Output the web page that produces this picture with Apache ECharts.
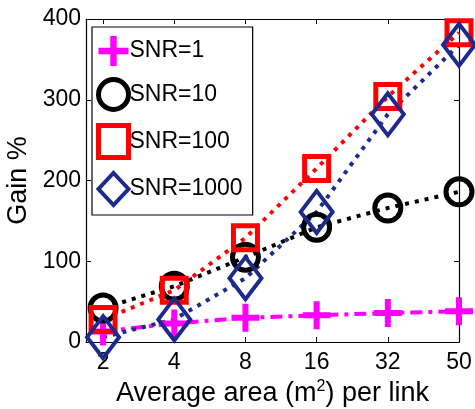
<!DOCTYPE html>
<html>
<head>
<meta charset="utf-8">
<script src="https://cdn.jsdelivr.net/npm/echarts@6/dist/echarts.min.js"></script>
<style>
  html, body { margin: 0; padding: 0; background: #fff; }
  #chart { width: 475px; height: 409px; }
</style>
</head>
<body>
<div id="chart"></div>
<script>
// Area bins (m^2 per link), plotted at evenly spaced positions 1..6
const areaLabels = ['2', '4', '8', '16', '32', '50'];
const xPositions = [1, 2, 3, 4, 5, 6];
const yTicks = [0, 100, 200, 300, 400];

// Gain (%) for each SNR
const gainSnr1 = [13, 23, 30, 33, 36, 38];
const gainSnr10 = [42, 69, 105, 142, 166, 186];
const gainSnr100 = [28, 64, 129, 215, 304, 383];
const gainSnr1000 = [6, 28, 79, 161, 282, 368];

const FONT = 'Liberation Sans';
const PLUS = 'path://M11,0 H17 V11 H28 V17 H17 V28 H11 V17 H0 V11 H11 Z';

function pts(vals) {
  return vals.map((v, i) => [xPositions[i], v]);
}

const chart = echarts.init(document.getElementById('chart'), null, { renderer: 'canvas' });

const baseX = {
  type: 'value', min: 0.76, max: 6,
  splitLine: { show: false },
  axisLine: { show: true, onZero: false, lineStyle: { color: '#000', width: 1.2 } },
  axisTick: { show: true, inside: true, length: 5, customValues: xPositions, lineStyle: { color: '#000' } }
};
const baseY = {
  type: 'value', min: 0, max: 400, interval: 100,
  splitLine: { show: false },
  axisLine: { show: true, onZero: false, lineStyle: { color: '#000', width: 1.2 } },
  axisTick: { show: true, inside: true, length: 5, lineStyle: { color: '#000' } }
};

chart.setOption({
  animation: false,
  backgroundColor: '#fff',
  grid: { left: 86, right: 16, top: 19, bottom: 67, containLabel: false, outerBoundsMode: 'none' },
  xAxis: [
    Object.assign({}, baseX, {
      position: 'bottom',
      name: 'Average area (m{sup|2}) per link',
      nameLocation: 'middle', nameGap: 36,
      nameTextStyle: {
        fontFamily: FONT, fontSize: 27, color: '#000',
        rich: { sup: { fontFamily: FONT, fontSize: 16, color: '#000', verticalAlign: 'bottom', padding: [0, 0, 14, 0] } }
      },
      axisLabel: {
        show: true, customValues: xPositions, margin: 9,
        fontFamily: FONT, fontSize: 23, color: '#000',
        formatter: v => areaLabels[Math.round(v) - 1] || ''
      }
    }),
    Object.assign({}, baseX, { position: 'top', axisLabel: { show: false } })
  ],
  yAxis: [
    Object.assign({}, baseY, {
      position: 'left',
      name: 'Gain %', nameLocation: 'middle', nameGap: 46, nameRotate: 90,
      nameTextStyle: { fontFamily: FONT, fontSize: 27, color: '#000' },
      axisLabel: {
        show: true, margin: 5, fontFamily: FONT, fontSize: 23, color: '#000',
        formatter: v => (yTicks.indexOf(v) >= 0 ? String(v) : '')
      }
    }),
    Object.assign({}, baseY, { position: 'right', axisLabel: { show: false } })
  ],
  legend: {
    orient: 'vertical', left: 92, top: 27,
    padding: [9, 10, 8, 4],
    itemWidth: 30, itemHeight: 32, itemGap: 11,
    backgroundColor: '#fff', borderColor: '#000', borderWidth: 1.2, borderRadius: 0,
    textStyle: { fontFamily: FONT, fontSize: 23, color: '#000', padding: [0, 0, 0, -4] },
    data: [
      { name: 'SNR=1', icon: PLUS, itemStyle: { color: '#ff00ff', borderWidth: 0 } },
      { name: 'SNR=10', icon: 'circle', itemStyle: { color: 'rgba(0,0,0,0)', borderColor: '#000', borderWidth: 5 } },
      { name: 'SNR=100', icon: 'rect', itemStyle: { color: 'rgba(0,0,0,0)', borderColor: '#ff0000', borderWidth: 5 } },
      { name: 'SNR=1000', icon: 'diamond', itemStyle: { color: 'rgba(0,0,0,0)', borderColor: '#1b2a8c', borderWidth: 4 } }
    ]
  },
  series: [
    {
      name: 'SNR=1', type: 'line', data: pts(gainSnr1), clip: false,
      symbol: PLUS, symbolSize: 28, symbolKeepAspect: true,
      itemStyle: { color: '#ff00ff' },
      lineStyle: { color: '#ff00ff', width: 4, type: [12, 6, 4, 6] }
    },
    {
      name: 'SNR=10', type: 'line', data: pts(gainSnr10), clip: false,
      symbol: 'circle', symbolSize: 26,
      itemStyle: { color: 'rgba(0,0,0,0)', borderColor: '#000', borderWidth: 5 },
      lineStyle: { color: '#000', width: 4, type: [4, 6] }
    },
    {
      name: 'SNR=100', type: 'line', data: pts(gainSnr100), clip: false,
      symbol: 'rect', symbolSize: 24,
      itemStyle: { color: 'rgba(0,0,0,0)', borderColor: '#ff0000', borderWidth: 5 },
      lineStyle: { color: '#ff0000', width: 4, type: [4, 6] }
    },
    {
      name: 'SNR=1000', type: 'line', data: pts(gainSnr1000), clip: false,
      symbol: 'diamond', symbolSize: [32, 42],
      itemStyle: { color: 'rgba(0,0,0,0)', borderColor: '#1b2a8c', borderWidth: 4 },
      lineStyle: { color: '#1b2a8c', width: 4, type: [4, 6] }
    }
  ]
});
</script>
</body>
</html>
